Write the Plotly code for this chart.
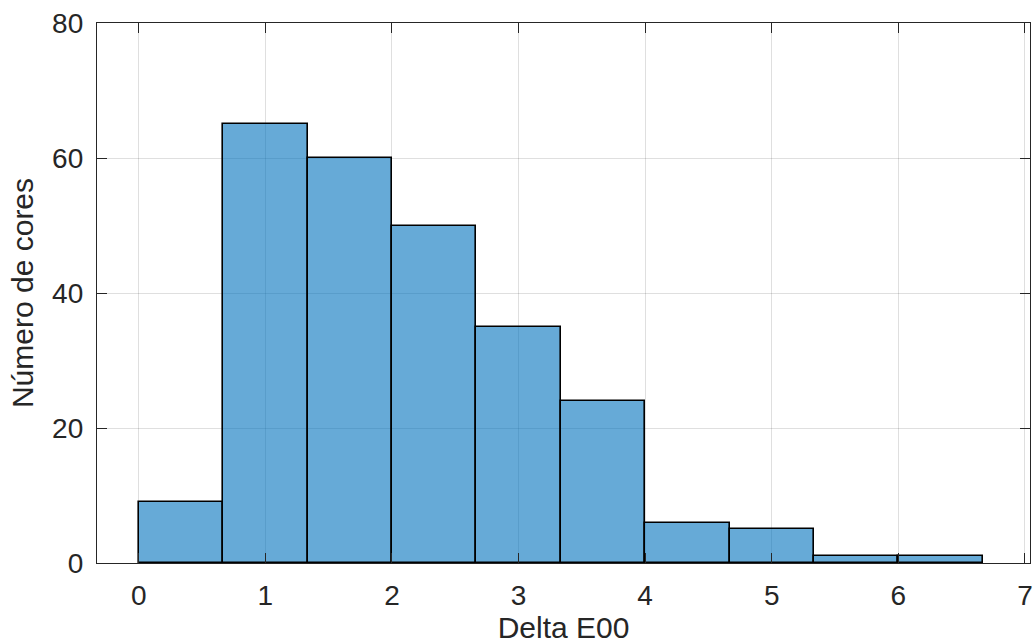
import plotly.graph_objects as go

# Histogram of colour differences (bin edges and counts per bin)
bin_width = 2 / 3
bin_left_edges = [i * bin_width for i in range(10)]
counts = [9, 65, 60, 50, 35, 24, 6, 5, 1, 1]

x_ticks = [0, 1, 2, 3, 4, 5, 6, 7]
y_ticks = [0, 20, 40, 60, 80]

ink = "#262626"
font_family = "Liberation Sans, Arial, Helvetica, sans-serif"

fig = go.Figure()
fig.add_trace(go.Bar(
    x=bin_left_edges,
    y=counts,
    width=[bin_width] * len(counts),
    offset=0,
    marker=dict(color="rgba(0,114,189,0.6)", line=dict(color="black", width=1.6)),
    showlegend=False,
))

axis_common = dict(
    showline=True, linecolor=ink, linewidth=1.3, mirror="ticks",
    ticks="inside", ticklen=10, tickwidth=1.3, tickcolor=ink,
    showgrid=True, gridcolor="rgba(38,38,38,0.15)", gridwidth=1.2,
    zeroline=False,
    ticklabeloverflow="allow",
    tickfont=dict(family=font_family, size=28, color=ink),
)

fig.update_layout(
    width=1035, height=644,
    margin=dict(l=97, r=2, t=23, b=81),
    plot_bgcolor="white", paper_bgcolor="white",
    bargap=0,
    xaxis=dict(
        range=[-0.33, 7.04], tickvals=x_ticks,
        title=dict(text="Delta E00", font=dict(family=font_family, size=30, color=ink), standoff=7),
        ticklabelstandoff=7,
        **axis_common,
    ),
    yaxis=dict(
        range=[0, 80], tickvals=y_ticks,
        title=dict(text="Número de cores", font=dict(family=font_family, size=30, color=ink), standoff=9),
        ticklabelstandoff=7,
        **axis_common,
    ),
)

fig.write_html("out.html")
